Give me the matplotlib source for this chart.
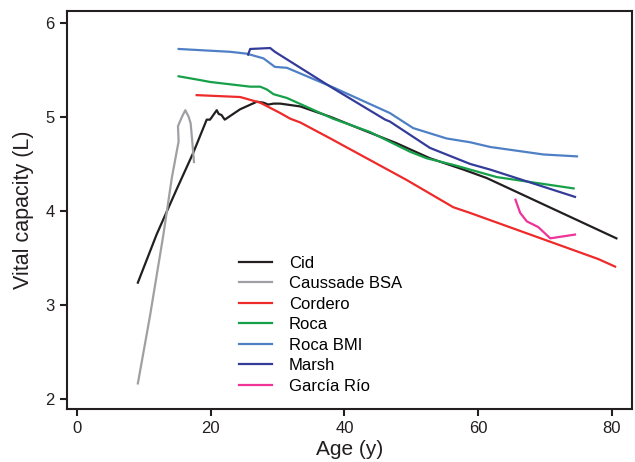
import matplotlib
matplotlib.use('Agg')
import matplotlib.pyplot as plt

plt.rcParams['font.family'] = ['Liberation Sans', 'DejaVu Sans']

# age (y) and vital capacity (L)
cid_age = [9.1, 11.9, 14.9, 17.4, 19.4, 19.9, 20.9, 21.2, 21.6, 22.1, 24.4, 26.9, 27.9,
           28.6, 29.4, 30.4, 33.4, 37.9, 42.8, 47.8, 52.8, 57.8, 61.3, 80.7]
cid_vc = [3.24, 3.75, 4.23, 4.62, 4.97, 4.97, 5.07, 5.03, 5.02, 4.97, 5.08, 5.16, 5.15,
          5.13, 5.14, 5.14, 5.11, 5.00, 4.86, 4.72, 4.56, 4.44, 4.35, 3.71]

caussade_age = [9.1, 10.9, 12.9, 14.2, 15.2, 15.1, 15.7, 16.2, 16.7, 17.0, 17.2, 17.5]
caussade_vc = [2.17, 2.88, 3.74, 4.36, 4.74, 4.90, 5.00, 5.07, 5.00, 4.93, 4.77, 4.52]

cordero_age = [17.9, 24.4, 27.4, 30.4, 31.9, 33.4, 37.9, 49.3, 56.3, 58.8, 78.0, 80.5]
cordero_vc = [5.23, 5.21, 5.15, 5.04, 4.98, 4.94, 4.77, 4.33, 4.04, 3.98, 3.49, 3.41]

roca_age = [15.2, 18.4, 19.9, 25.9, 27.4, 28.4, 29.4, 31.4, 38.3, 43.8, 49.8, 52.3,
            56.3, 58.8, 62.8, 74.3]
roca_vc = [5.43, 5.39, 5.37, 5.32, 5.32, 5.29, 5.24, 5.20, 4.98, 4.84, 4.63, 4.56,
           4.49, 4.44, 4.36, 4.24]

rocabmi_age = [15.2, 22.9, 25.4, 27.9, 29.6, 31.4, 38.4, 46.8, 50.3, 55.3, 58.8, 61.8,
               69.8, 74.8]
rocabmi_vc = [5.72, 5.69, 5.67, 5.62, 5.53, 5.52, 5.31, 5.04, 4.88, 4.77, 4.73, 4.68,
              4.60, 4.58]

marsh_age = [25.6, 25.9, 28.9, 29.6, 37.9, 46.1, 46.8, 52.8, 58.8, 61.8, 74.5]
marsh_vc = [5.66, 5.72, 5.73, 5.69, 5.32, 4.97, 4.95, 4.67, 4.50, 4.44, 4.15]

garcia_age = [65.6, 66.3, 67.3, 69.0, 70.8, 74.5]
garcia_vc = [4.12, 3.98, 3.89, 3.83, 3.71, 3.75]

fig = plt.figure(figsize=(6.35, 4.62), dpi=100)
ax = fig.add_axes([0.105, 0.115, 0.891, 0.862])

lw = 1.6
ax.plot(cid_age, cid_vc, color='#231f20', lw=lw, label='Cid')
ax.plot(caussade_age, caussade_vc, color='#a0a0a4', lw=lw, label='Caussade BSA')
ax.plot(cordero_age, cordero_vc, color='#ee2a2a', lw=lw, label='Cordero')
ax.plot(roca_age, roca_vc, color='#17a04a', lw=lw, label='Roca')
ax.plot(rocabmi_age, rocabmi_vc, color='#4f80c6', lw=lw, label='Roca BMI')
ax.plot(marsh_age, marsh_vc, color='#343c99', lw=lw, label='Marsh')
ax.plot(garcia_age, garcia_vc, color='#ee3399', lw=lw, label='García Río')

ax.set_xlim(-1.55, 83.1)
ax.set_ylim(1.9, 6.127)
ax.set_xticks([0, 20, 40, 60, 80])
ax.set_yticks([2, 3, 4, 5, 6])
for s in ax.spines.values():
    s.set_linewidth(1.5)
    s.set_color('#231f20')
ax.tick_params(direction='out', length=5, width=1.5, labelsize=12, colors='#231f20',
               labelcolor='#231f20')
ax.set_xlabel('Age (y)', fontsize=15, color='#231f20', labelpad=3)
ax.set_ylabel('Vital capacity (L)', fontsize=15.5, color='#231f20', labelpad=8)

ax.legend(loc='lower left', bbox_to_anchor=(0.29, 0.017), frameon=False, fontsize=12,
          borderpad=0, labelspacing=0.33, handlelength=2.0, handletextpad=1.0)

fig.savefig('out.png', dpi=100)
